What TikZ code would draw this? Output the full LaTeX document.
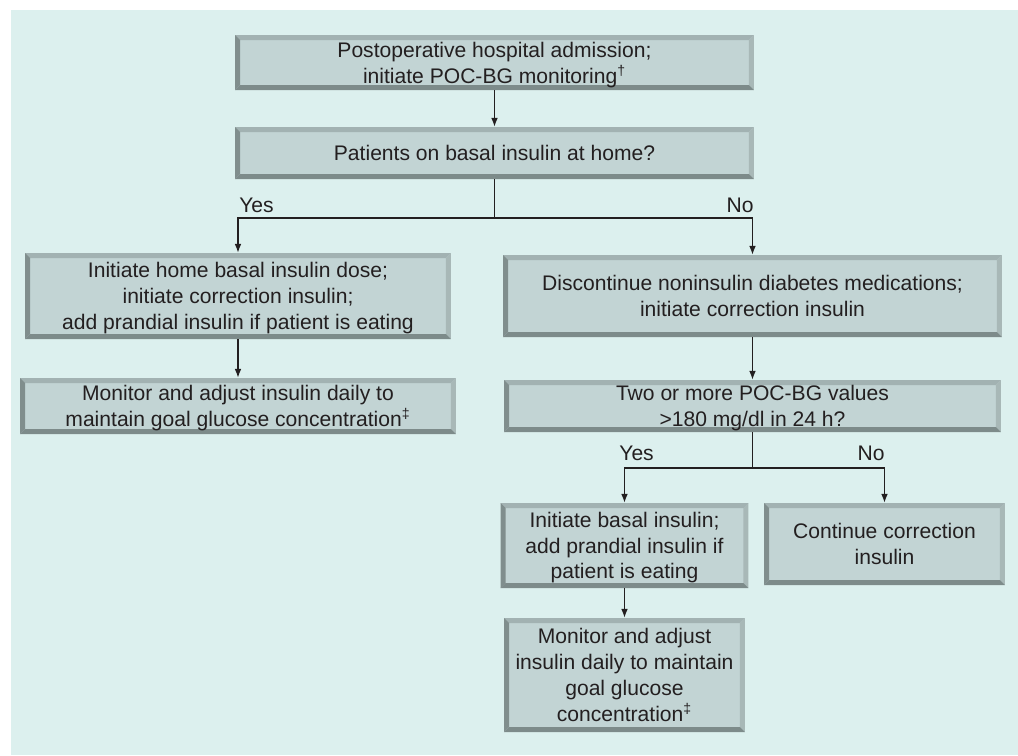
\documentclass[tikz,border=0pt]{standalone}
\usepackage{fontspec}
\setmainfont{Liberation Sans}
\usepackage{tikz}
\usetikzlibrary{calc, arrows.meta, positioning}

\definecolor{bgc}{HTML}{DCF0EE}
\definecolor{boxfill}{HTML}{C2D4D4}
\definecolor{bevtop}{HTML}{A2B2B2}
\definecolor{bevright}{HTML}{A8B8B7}
\definecolor{bevbot}{HTML}{7D8B8A}
\definecolor{bevleft}{HTML}{808E8D}
\definecolor{ink}{HTML}{231F20}

\tikzset{
    stepbox/.style={fill=boxfill, inner sep=0pt, align=center, text=ink, text depth=0pt,
        font=\fontsize{12}{14.7}\selectfont,
        path picture={
            \coordinate (nw) at (path picture bounding box.north west);
            \coordinate (ne) at (path picture bounding box.north east);
            \coordinate (sw) at (path picture bounding box.south west);
            \coordinate (se) at (path picture bounding box.south east);
            \fill[bevtop] (nw) -- (ne) -- ([shift={(-5,5)}]ne) -- ([shift={(5,5)}]nw) -- cycle;
            \fill[bevright] (ne) -- (se) -- ([shift={(-5,-5)}]se) -- ([shift={(-5,5)}]ne) -- cycle;
            \fill[bevbot] (sw) -- (se) -- ([shift={(-5,-5)}]se) -- ([shift={(5,-5)}]sw) -- cycle;
            \fill[bevleft] (nw) -- (sw) -- ([shift={(5,-5)}]sw) -- ([shift={(5,5)}]nw) -- cycle;
        }},
    lbl/.style={inner sep=0pt, text=ink, font=\fontsize{12}{14.7}\selectfont},
    arr/.style={-{Latex[length=5pt,width=3.8pt]}, line width=0.6pt, draw=ink},
    lin/.style={line width=0.6pt, draw=ink}
}

\begin{document}
\begin{tikzpicture}[x=0.02cm, y=-0.02cm]
        %背景與輸出區塊
        \fill[white] (0,0) rectangle (1018,755);
        \fill[bgc] (11,10) rectangle (1018,755);
        \useasboundingbox (0,0) rectangle (1018,755);

        \node[stepbox, minimum width=10.38cm, minimum height=1.10cm] (adm) at (494.5,62.5)
            {Postoperative hospital admission;\\initiate POC-BG monitoring\textsuperscript{†}};
        \node[stepbox, minimum width=10.38cm, minimum height=1.04cm] (basal) at (494.5,153)
            {Patients on basal insulin at home?};
        \node[stepbox, minimum width=8.52cm, minimum height=1.72cm] (home) at (238,296)
            {Initiate home basal insulin dose;\\initiate correction insulin;\\add prandial insulin if patient is eating};
        \node[stepbox, minimum width=8.72cm, minimum height=1.12cm] (mon1) at (238,406)
            {Monitor and adjust insulin daily to\\maintain goal glucose concentration\textsuperscript{‡}};
        \node[stepbox, minimum width=9.98cm, minimum height=1.64cm] (stop) at (752.5,296)
            {Discontinue noninsulin diabetes medications;\\initiate correction insulin};
        \node[stepbox, minimum width=9.94cm, minimum height=1.04cm] (two) at (752.5,406)
            {Two or more POC-BG values\\>180 mg/dl in 24 h?};
        \node[stepbox, minimum width=4.96cm, minimum height=1.70cm] (start) at (624.5,545.5)
            {Initiate basal insulin;\\add prandial insulin if\\patient is eating};
        \node[stepbox, minimum width=4.82cm, minimum height=1.64cm] (cont) at (884.5,544)
            {Continue correction\\insulin};
        \node[stepbox, minimum width=4.82cm, minimum height=2.28cm] (mon2) at (624.5,675)
            {Monitor and adjust\\insulin daily to maintain\\goal glucose\\concentration\textsuperscript{‡}};

        \coordinate (s1) at (494.5,218);
        \coordinate (s2) at (752.5,468);

        \draw[arr] (adm) -- (basal);
        \draw[lin] (basal) -- (s1);
        \draw[arr] (s1) -| (home.north);
        \draw[arr] (s1) -| (stop.north);
        \draw[arr] (home) -- (mon1);
        \draw[arr] (stop) -- (two);
        \draw[lin] (two) -- (s2);
        \draw[arr] (s2) -| (start.north);
        \draw[arr] (s2) -| (cont.north);
        \draw[arr] (start) -- (mon2);

        \node[lbl, anchor=base west] (yes1) at (239,212) {Yes};
        \node[lbl, anchor=base east] (no1) at (754,212) {No};
        \node[lbl, anchor=base west] (yes2) at (619,460) {Yes};
        \node[lbl, anchor=base east] (no2) at (885,460) {No};

    \end{tikzpicture}
\end{document}
